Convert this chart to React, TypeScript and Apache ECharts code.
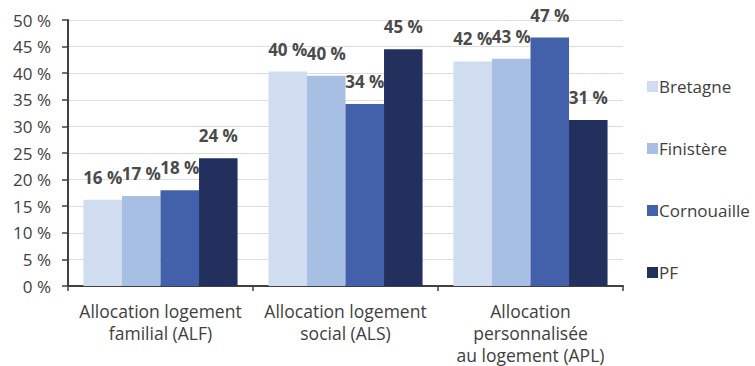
import React, { useEffect, useRef } from "react";
import * as echarts from "echarts";

const categories = [
  "Allocation logement\nfamilial (ALF)",
  "Allocation logement\nsocial (ALS)",
  "Allocation\npersonnalisée\nau logement (APL)",
];
const seriesNames = ["Bretagne", "Finistère", "Cornouaille", "PF"];
const bretagne = [16.2, 40.3, 42.2];
const finistere = [16.9, 39.5, 42.7];
const cornouaille = [18.0, 34.2, 46.7];
const pf = [24.0, 44.5, 31.2];
const colors = ["#D0DCF0", "#A7BFE3", "#4361AA", "#22305E"];

const FONT = "Open Sans";
const TXT = "#404040";

export default function App() {
  const ref = useRef<HTMLDivElement>(null);
  useEffect(() => {
    document.body.style.margin = "0";
    if (!ref.current) return;
    const chart = echarts.init(ref.current, undefined, { renderer: "svg" });
    const data = [bretagne, finistere, cornouaille, pf];
    chart.setOption({
      animation: false,
      textStyle: { fontFamily: FONT },
      grid: { left: 68, right: 132, top: 20, bottom: 80, containLabel: false },
      legend: {
        orient: "vertical",
        left: 642,
        top: 73,
        itemWidth: 11,
        itemHeight: 11,
        itemGap: 45,
        icon: "rect",
        textStyle: { fontFamily: FONT, fontSize: 17, color: TXT, padding: [0, 0, 0, -4] },
        data: seriesNames,
      },
      xAxis: {
        type: "category",
        data: categories,
        axisLine: { lineStyle: { color: "#404040", width: 2 } },
        axisTick: { show: true, length: 5, lineStyle: { color: "#404040", width: 1.5 } },
        axisLabel: {
          fontFamily: FONT,
          fontSize: 17.5,
          color: TXT,
          margin: 14,
          lineHeight: 22,
          interval: 0,
        },
      },
      yAxis: {
        type: "value",
        min: 0,
        max: 50,
        interval: 5,
        axisLine: { show: true, lineStyle: { color: "#404040", width: 2 } },
        axisTick: { show: true, length: 6, lineStyle: { color: "#404040", width: 1.5 } },
        axisLabel: {
          fontFamily: FONT,
          fontSize: 17,
          color: TXT,
          margin: 17,
          formatter: (v: number) => v + " %",
        },
        splitLine: { lineStyle: { color: "#DDDDDD", width: 1 } },
      },
      series: seriesNames.map((name, i) => ({
        name,
        type: "bar",
        data: data[i],
        barGap: "0%",
        barCategoryGap: "16.7%",
        itemStyle: { color: colors[i] },
        label: {
          show: true,
          position: "top",
          distance: 14,
          fontFamily: FONT,
          fontSize: 17,
          fontWeight: "bold",
          color: "#4A4A4A",
          formatter: (p: any) => Math.round(p.value) + " %",
        },
      })),
    });
    return () => chart.dispose();
  }, []);
  return <div ref={ref} style={{ width: 755, height: 366 }} />;
}
